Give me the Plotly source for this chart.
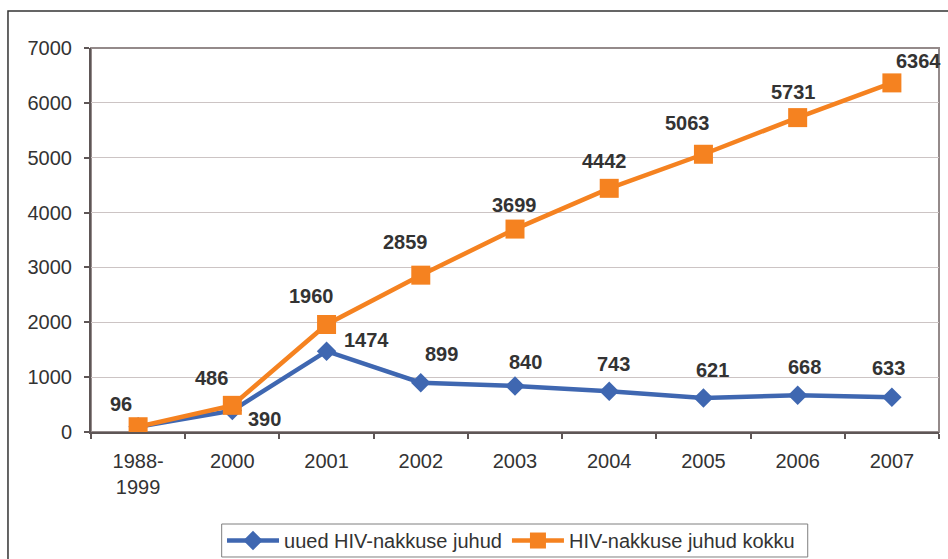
import plotly.graph_objects as go

categories = ["1988-1999", "2000", "2001", "2002", "2003", "2004", "2005", "2006", "2007"]
tick_text = ["1988-<br>1999", "2000", "2001", "2002", "2003", "2004", "2005", "2006", "2007"]
new_cases = [96, 390, 1474, 899, 840, 743, 621, 668, 633]
total_cases = [96, 486, 1960, 2859, 3699, 4442, 5063, 5731, 6364]
new_label_shown = [False, True, True, True, True, True, True, True, True]
y_ticks = [0, 1000, 2000, 3000, 4000, 5000, 6000, 7000]
series_names = ["uued HIV-nakkuse juhud", "HIV-nakkuse juhud kokku"]

# label offsets in pixels (style, not data)
total_dx = [-17, -21, -15, -15, -1, -5, -16, -4, 27]
total_dy = [23, 27, 28, 33, 24, 27, 31, 26, 22]
new_dx = [0, 32, 40, 21, 10, 4, 9, 7, -3]
new_dy = [0, -8, 11, 29, 24, 27, 28, 28, 29]

BLUE = "#3F67B1"
ORANGE = "#F58220"
FONT = "Liberation Sans, Arial, sans-serif"
TXT = "#333333"

idx = list(range(len(categories)))

fig = go.Figure()
fig.add_trace(go.Scatter(
    x=idx, y=new_cases, name=series_names[0], mode="lines+markers",
    line=dict(color=BLUE, width=4.5),
    marker=dict(symbol="diamond", size=15, color=BLUE),
))
fig.add_trace(go.Scatter(
    x=idx, y=total_cases, name=series_names[1], mode="lines+markers",
    line=dict(color=ORANGE, width=4.5),
    marker=dict(symbol="square", size=19, color=ORANGE),
))

annotations = []
for i in idx:
    annotations.append(dict(
        x=i, y=total_cases[i], xref="x", yref="y", text="<b>%d</b>" % total_cases[i],
        showarrow=False, xshift=total_dx[i], yshift=total_dy[i],
        font=dict(family=FONT, size=20, color=TXT), xanchor="center", yanchor="middle",
    ))
    if new_label_shown[i]:
        annotations.append(dict(
            x=i, y=new_cases[i], xref="x", yref="y", text="<b>%d</b>" % new_cases[i],
            showarrow=False, xshift=new_dx[i], yshift=new_dy[i],
            font=dict(family=FONT, size=20, color=TXT), xanchor="center", yanchor="middle",
        ))

shapes = [
    # outer chart border
    dict(type="rect", xref="paper", yref="paper", x0=-0.0979, x1=1.1, y0=-0.6, y1=1.0964,
         line=dict(color="#333333", width=1.5), fillcolor="rgba(0,0,0,0)", layer="below"),
    # plot area frame
    dict(type="rect", xref="paper", yref="paper", x0=0, x1=1, y0=0, y1=1,
         line=dict(color="#948A8A", width=2), fillcolor="rgba(0,0,0,0)", layer="below"),
    # legend frame
    dict(type="rect", xref="paper", yref="paper", x0=0.1541, x1=0.8452, y0=-0.3255, y1=-0.2396,
         line=dict(color="#7F7F7F", width=1), fillcolor="rgba(0,0,0,0)", layer="below"),
]

fig.update_layout(
    width=948, height=559,
    margin=dict(l=91, r=9, t=48, b=127, autoexpand=False),
    paper_bgcolor="white", plot_bgcolor="white",
    font=dict(family=FONT, size=20, color=TXT),
    showlegend=True,
    legend=dict(
        orientation="h", x=0.4953, xanchor="center", y=-0.2826, yanchor="middle",
        borderwidth=0, bgcolor="rgba(0,0,0,0)",
        font=dict(family=FONT, size=20, color=TXT),
        itemwidth=52, tracegroupgap=0,
    ),
    annotations=annotations,
    shapes=shapes,
)
fig.update_xaxes(
    range=[-0.5, 8.5],
    tickvals=idx, ticktext=tick_text,
    ticks="", showline=True, linecolor="#5E5656", linewidth=2,
    showgrid=False, zeroline=False, ticklabelstandoff=10, automargin=False,
    tickfont=dict(family=FONT, size=20, color=TXT),
    minor=dict(tickvals=[i - 0.5 for i in idx] + [len(idx) - 0.5], ticks="outside",
               ticklen=5, tickwidth=1.5, tickcolor="#5E5656", showgrid=False),
)
fig.update_yaxes(
    range=[0, 7000], tickvals=y_ticks, ticks="outside", ticklen=5, tickwidth=1.5,
    tickcolor="#5E5656", showline=True, linecolor="#5E5656", linewidth=2,
    showgrid=True, gridcolor="#CCC4C4", gridwidth=1, zeroline=False,
    ticklabelstandoff=8, automargin=False,
    tickfont=dict(family=FONT, size=20, color=TXT),
)

fig.write_html(
    "out.html",
    config={"displayModeBar": False},
    post_script="document.body.style.margin='0';document.body.style.overflow='hidden';",
)
